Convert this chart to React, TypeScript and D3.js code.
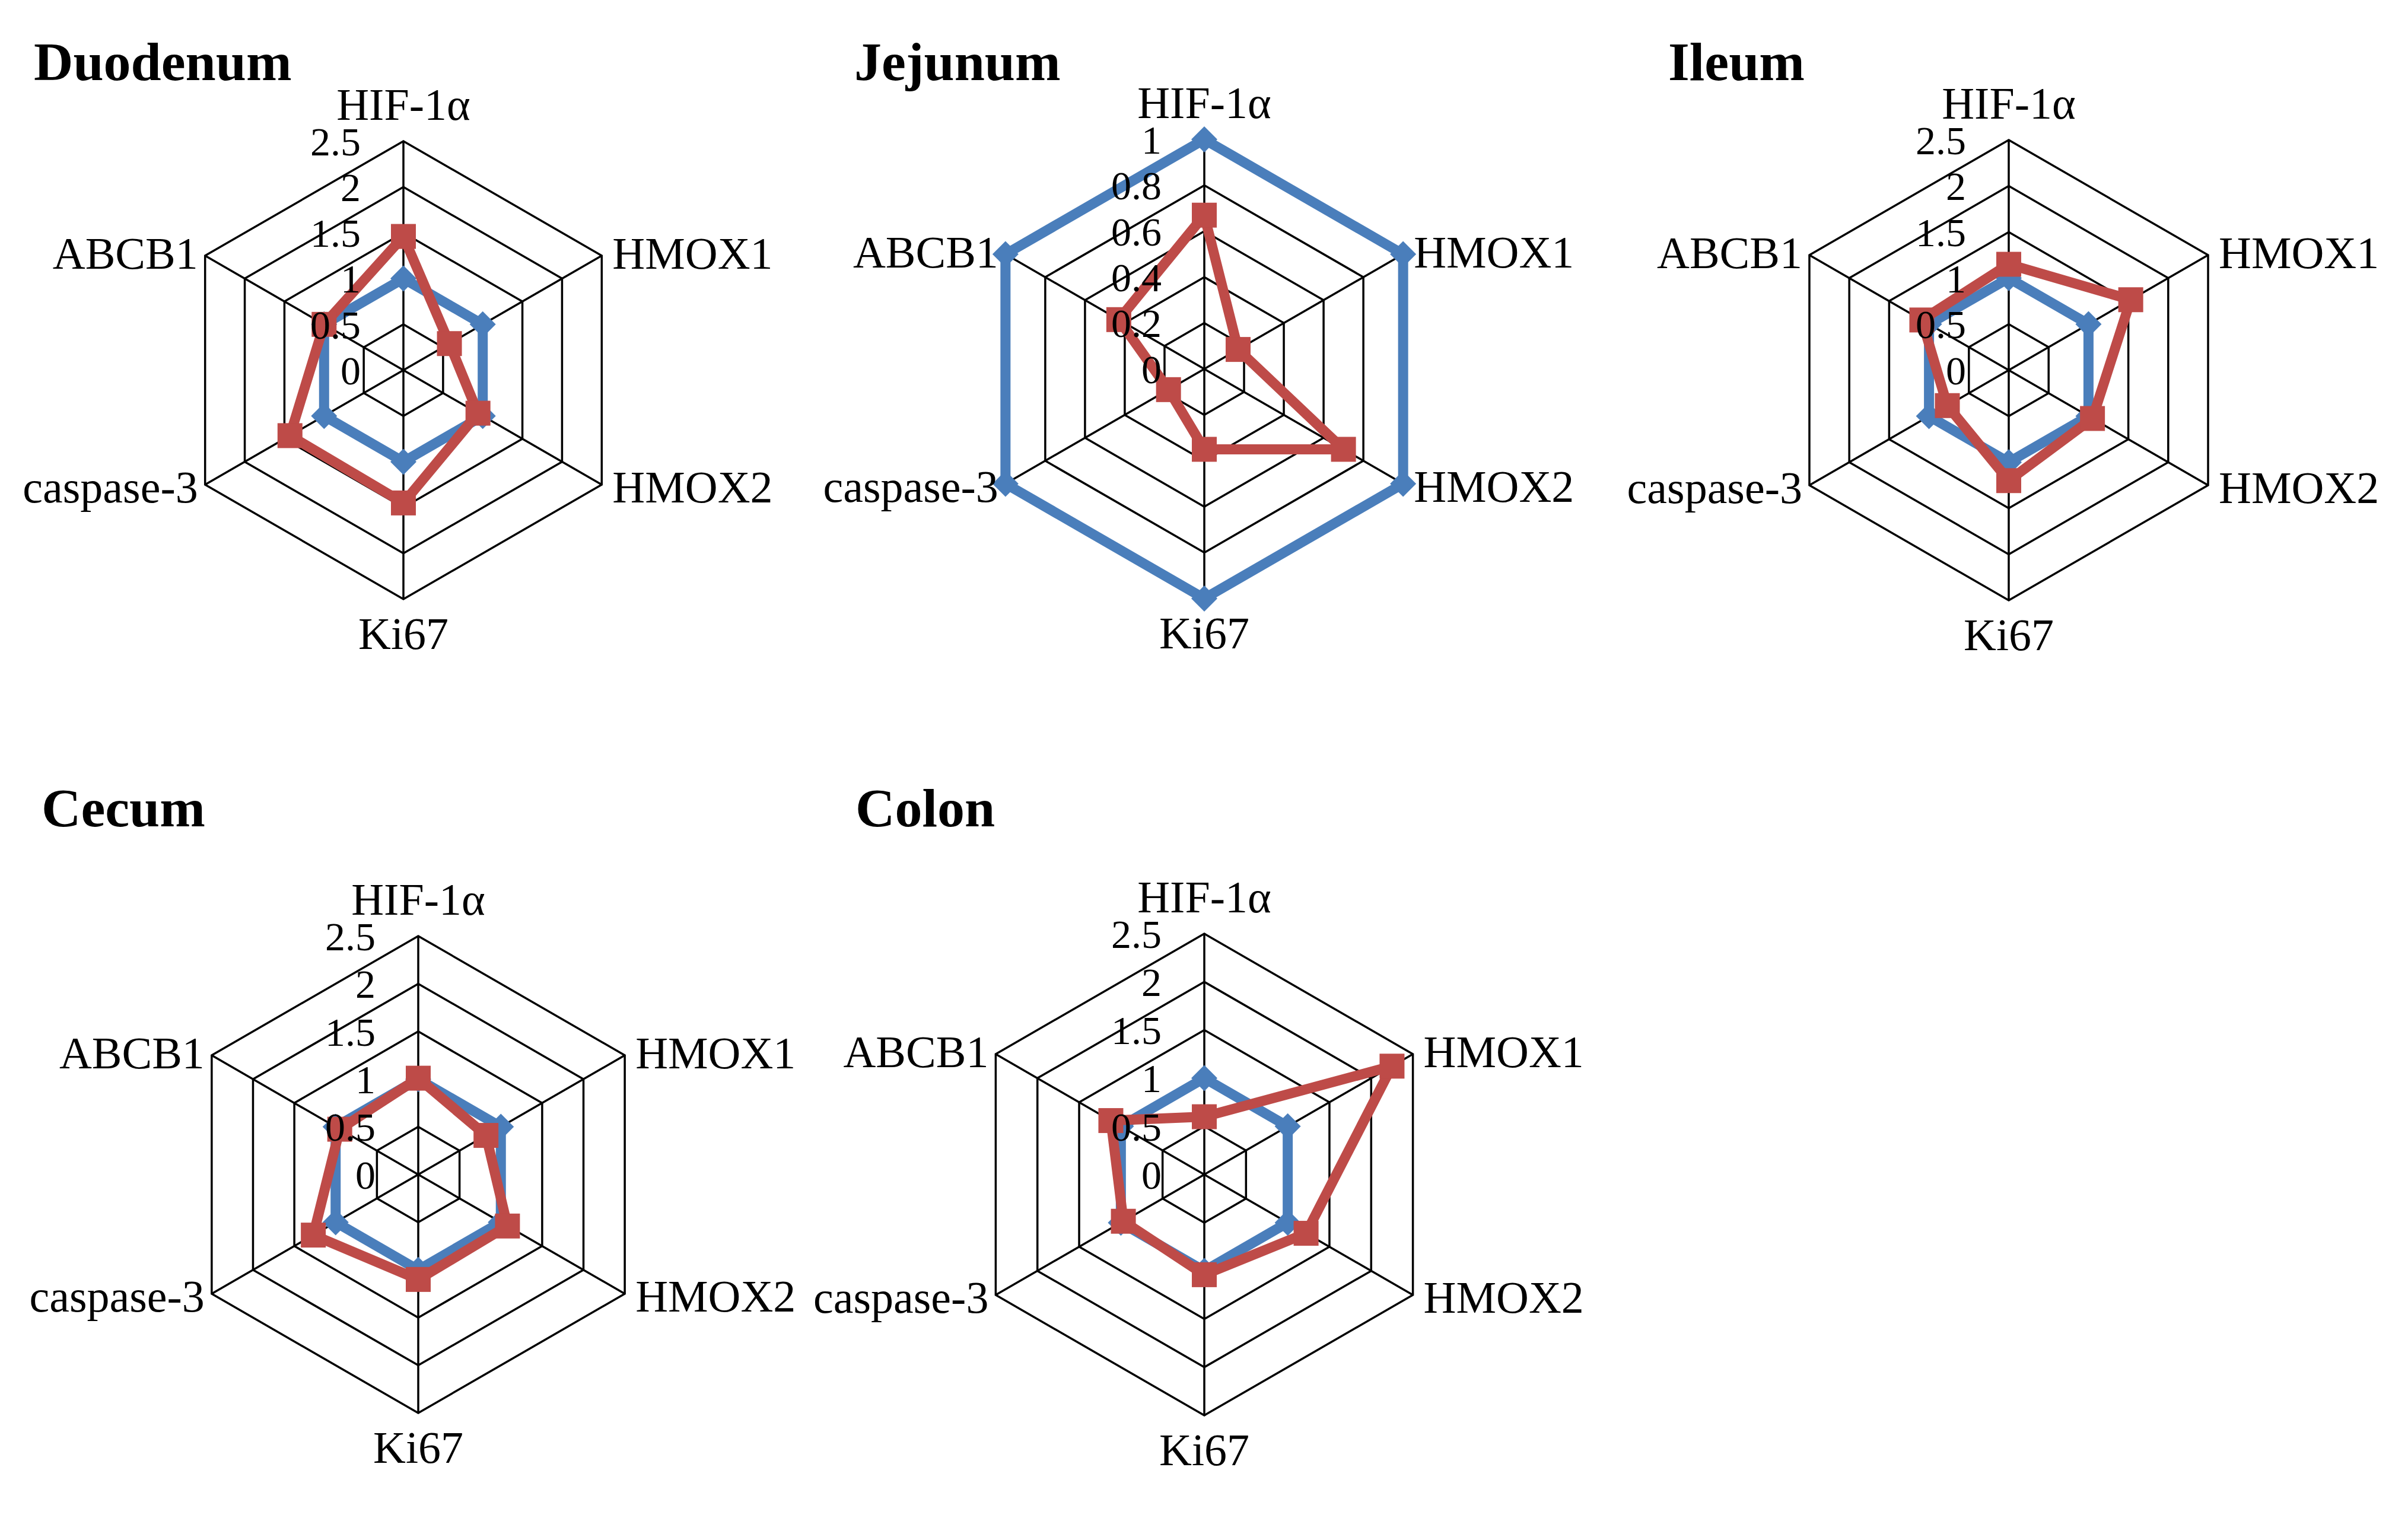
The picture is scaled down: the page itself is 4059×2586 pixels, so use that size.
import { useEffect, useRef } from 'react';
import * as d3 from 'd3';

// categories, clockwise from the top
const axisLabels = ['HIF-1α', 'HMOX1', 'HMOX2', 'Ki67', 'caspase-3', 'ABCB1'];

const ticksWide = [0, 0.5, 1, 1.5, 2, 2.5];
const ticksWideText = ['0', '0.5', '1', '1.5', '2', '2.5'];
const ticksNarrow = [0, 0.2, 0.4, 0.6, 0.8, 1];
const ticksNarrowText = ['0', '0.2', '0.4', '0.6', '0.8', '1'];

// blue = control, red = treated (relative expression)
const duodenumBlue = [1, 1, 1, 1, 1, 1];
const duodenumRed = [1.46, 0.58, 0.94, 1.45, 1.43, 1.0];
const jejunumBlue = [1, 1, 1, 1, 1, 1];
const jejunumRed = [0.67, 0.17, 0.7, 0.35, 0.18, 0.43];
const ileumBlue = [1, 1, 1, 1, 1, 1];
const ileumRed = [1.15, 1.53, 1.05, 1.2, 0.77, 1.09];
const cecumBlue = [1, 1, 1, 1, 1, 1];
const cecumRed = [1.01, 0.82, 1.08, 1.1, 1.27, 0.95];
const colonBlue = [1, 1, 1, 1, 1, 1];
const colonRed = [0.6, 2.25, 1.22, 1.04, 0.97, 1.12];

const BLUE = '#4A7EBB';
const RED = '#BE4B48';
const FONT = '"Liberation Serif", "Times New Roman", serif';

const panels = [
    { title: 'Duodenum', blue: duodenumBlue, red: duodenumRed, ticks: ticksWide, tickText: ticksWideText, cx: 680, cy: 624, r: 386, tx: 57, ty: 135 },
    { title: 'Jejunum', blue: jejunumBlue, red: jejunumRed, ticks: ticksNarrow, tickText: ticksNarrowText, cx: 2030, cy: 622, r: 387, tx: 1440, ty: 135 },
    { title: 'Ileum', blue: ileumBlue, red: ileumRed, ticks: ticksWide, tickText: ticksWideText, cx: 3386, cy: 624, r: 388, tx: 2812, ty: 135 },
    { title: 'Cecum', blue: cecumBlue, red: cecumRed, ticks: ticksWide, tickText: ticksWideText, cx: 705, cy: 1980, r: 402, tx: 70, ty: 1393 },
    { title: 'Colon', blue: colonBlue, red: colonRed, ticks: ticksWide, tickText: ticksWideText, cx: 2030, cy: 1980, r: 406, tx: 1442, ty: 1393 },
];

function drawRadar(svg, p) {
    const n = axisLabels.length;
    const angle = d3.scaleLinear().domain([0, n]).range([0, 2 * Math.PI]);
    const rScale = d3.scaleLinear()
        .domain([0, p.ticks[p.ticks.length - 1]])
        .range([0, p.r]);

    const g = svg.append('g').attr('transform', `translate(${p.cx},${p.cy})`);

    const radial = d3.lineRadial()
        .angle((d, i) => angle(i))
        .radius(d => rScale(d))
        .curve(d3.curveLinearClosed);

    const px = (v, i) => rScale(v) * Math.sin(angle(i));
    const py = (v, i) => -rScale(v) * Math.cos(angle(i));

    // grid rings
    p.ticks.slice(1).forEach(t => {
        g.append('path')
            .attr('d', radial(axisLabels.map(() => t)))
            .attr('fill', 'none')
            .attr('stroke', '#000')
            .attr('stroke-width', 3.5);
    });

    // spokes
    const top = p.ticks[p.ticks.length - 1];
    axisLabels.forEach((a, i) => {
        g.append('line')
            .attr('x1', 0).attr('y1', 0)
            .attr('x2', px(top, i)).attr('y2', py(top, i))
            .attr('stroke', '#000')
            .attr('stroke-width', 3.5);
    });

    // control series
    g.append('path')
        .attr('d', radial(p.blue))
        .attr('fill', 'none')
        .attr('stroke', BLUE)
        .attr('stroke-width', 17)
        .attr('stroke-linejoin', 'round');
    p.blue.forEach((v, i) => {
        const s = 22;
        const x = px(v, i), y = py(v, i);
        g.append('path')
            .attr('d', `M${x},${y - s}L${x + s},${y}L${x},${y + s}L${x - s},${y}Z`)
            .attr('fill', BLUE);
    });

    // treated series
    g.append('path')
        .attr('d', radial(p.red))
        .attr('fill', 'none')
        .attr('stroke', RED)
        .attr('stroke-width', 17)
        .attr('stroke-linejoin', 'round');
    p.red.forEach((v, i) => {
        const s = 42;
        g.append('rect')
            .attr('x', px(v, i) - s / 2)
            .attr('y', py(v, i) - s / 2)
            .attr('width', s)
            .attr('height', s)
            .attr('fill', RED);
    });

    // tick labels on the vertical axis
    p.ticks.forEach((t, k) => {
        g.append('text')
            .attr('x', -72)
            .attr('y', -rScale(t))
            .attr('dy', '0.35em')
            .attr('text-anchor', 'end')
            .attr('font-family', FONT)
            .attr('font-size', 68)
            .text(p.tickText[k]);
    });

    // category labels
    axisLabels.forEach((label, i) => {
        const x = px(top, i), y = py(top, i);
        let ax = x, ay = y, anchor = 'middle';
        if (i === 0) { ay = y - 36; }
        else if (i === 3) { ay = y + 84; }
        else if (i === 1) { ax = x + 18; ay = y + 22; anchor = 'start'; }
        else if (i === 2) { ax = x + 18; ay = y + 30; anchor = 'start'; }
        else if (i === 4) { ax = x - 12; ay = y + 30; anchor = 'end'; }
        else { ax = x - 12; ay = y + 22; anchor = 'end'; }
        g.append('text')
            .attr('x', ax)
            .attr('y', ay)
            .attr('text-anchor', anchor)
            .attr('font-family', FONT)
            .attr('font-size', 76)
            .text(label);
    });

    svg.append('text')
        .attr('x', p.tx)
        .attr('y', p.ty)
        .attr('font-family', FONT)
        .attr('font-weight', 'bold')
        .attr('font-size', 92)
        .text(p.title);
}

export default function App() {
    const svgRef = useRef(null);

    useEffect(() => {
        if (!svgRef.current) return;
        const svg = d3.select(svgRef.current);
        svg.selectAll('*').remove();
        svg.append('rect').attr('width', 4059).attr('height', 2586).attr('fill', '#fff');
        panels.forEach(p => drawRadar(svg, p));
    }, []);

    return (
        <svg
            ref={svgRef}
            width={4059}
            height={2586}
            style={{ position: 'absolute', left: 0, top: 0, display: 'block' }}
        />
    );
}
